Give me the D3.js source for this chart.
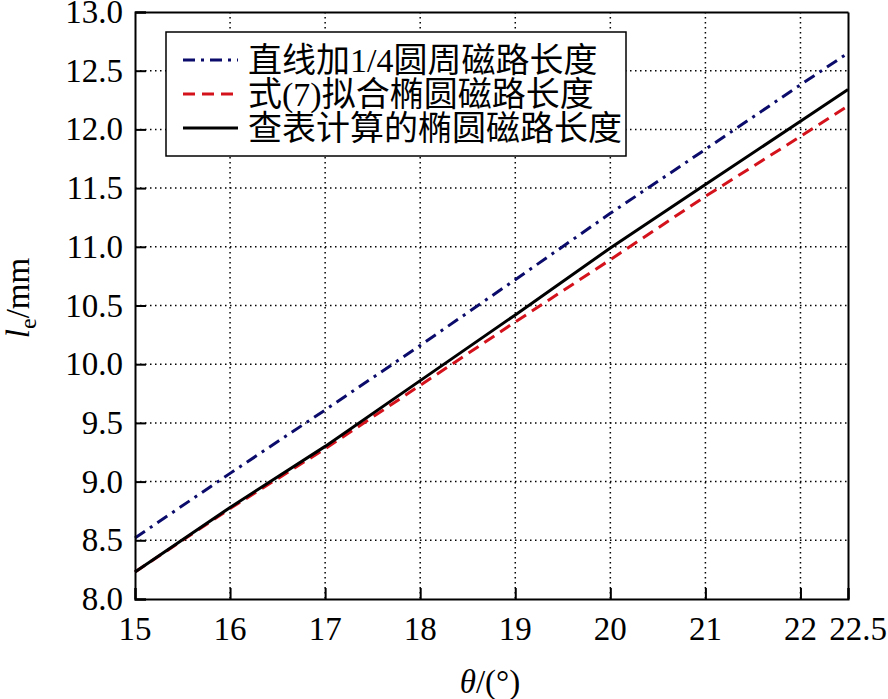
<!DOCTYPE html>
<html><head><meta charset="utf-8">
<script src="https://cdn.jsdelivr.net/npm/d3@7"></script>
<style>
html,body{margin:0;padding:0;background:#fff;}
svg{display:block;}
</style></head>
<body>
<svg id="chart" width="888" height="699"></svg>
<script>
const theta = [15, 16, 17, 18, 19, 20, 21, 22, 22.5];
const straightQuarter = [8.52, 9.07, 9.61, 10.16, 10.72, 11.285, 11.83, 12.38, 12.65];
const fittedEllipse = [8.23, 8.77, 9.28, 9.82, 10.36, 10.89, 11.43, 11.94, 12.20];
const tableEllipse = [8.23, 8.78, 9.30, 9.86, 10.42, 10.99, 11.53, 12.07, 12.34];
const xTicks = [15, 16, 17, 18, 19, 20, 21, 22, 22.5];
const yTicks = [8.0, 8.5, 9.0, 9.5, 10.0, 10.5, 11.0, 11.5, 12.0, 12.5, 13.0];
const seriesNames = ["直线加1/4圆周磁路长度", "式(7)拟合椭圆磁路长度", "查表计算的椭圆磁路长度"];
const seriesColors = ["#0b0b6b", "#d4121c", "#000000"];
const seriesDash = ["12,6,3,6", "12,7", null];

const svg = d3.select("#chart");
const pL = 135, pR = 848, pT = 12, pB = 599;
const x = d3.scaleLinear().domain([15, 22.5]).range([pL, pR]);
const y = d3.scaleLinear().domain([8, 13]).range([pB, pT]);
const numFont = "'Liberation Serif', 'Times New Roman', serif";
const cjkFont = "'Liberation Serif', 'Noto Sans CJK SC', serif";

// grid
const grid = svg.append("g");
grid.selectAll("line.vx").data(xTicks.filter(d => d > 15 && d < 22.5)).join("line")
  .attr("x1", d => x(d)).attr("x2", d => x(d)).attr("y1", pT).attr("y2", pB)
  .attr("stroke", "#000").attr("stroke-width", 1.5).attr("stroke-dasharray", "1.5,3.5");
grid.selectAll("line.hy").data(yTicks.filter(d => d > 8 && d < 13)).join("line")
  .attr("y1", d => y(d)).attr("y2", d => y(d)).attr("x1", pL).attr("x2", pR)
  .attr("stroke", "#000").attr("stroke-width", 1.5).attr("stroke-dasharray", "1.5,3.5");

// series
const series = [straightQuarter, fittedEllipse, tableEllipse];
const line = d3.line().x((d, i) => x(theta[i])).y(d => y(d));
series.forEach((s, k) => {
  svg.append("path").datum(s).attr("d", line)
    .attr("fill", "none").attr("stroke", seriesColors[k]).attr("stroke-width", 3)
    .attr("stroke-dasharray", seriesDash[k]);
});

// axes (ticks inward)
const xAxisB = d3.axisBottom(x).tickValues(xTicks).tickSize(-11).tickFormat("");
const xAxisT = d3.axisTop(x).tickValues(xTicks).tickSize(0).tickFormat("");
const yAxisL = d3.axisLeft(y).tickValues(yTicks).tickSize(-11).tickFormat("");
const yAxisR = d3.axisRight(y).tickValues(yTicks).tickSize(0).tickFormat("");
[[xAxisB, `translate(0,${pB})`], [xAxisT, `translate(0,${pT})`],
 [yAxisL, `translate(${pL},0)`], [yAxisR, `translate(${pR},0)`]].forEach(([ax, tr]) => {
  const g = svg.append("g").attr("transform", tr).call(ax);
  g.select(".domain").attr("stroke", "#000").attr("stroke-width", 2);
  g.selectAll(".tick line").attr("stroke", "#000").attr("stroke-width", 2);
});

// tick labels
svg.append("g").selectAll("text").data(xTicks).join("text")
  .attr("x", d => x(d) + (d === 22.5 ? 10 : 0)).attr("y", 640)
  .attr("text-anchor", "middle").attr("font-family", numFont).attr("font-size", 33)
  .text(d => d);
svg.append("g").selectAll("text").data(yTicks).join("text")
  .attr("x", 123).attr("y", d => y(d) + 11)
  .attr("text-anchor", "end").attr("font-family", numFont).attr("font-size", 33)
  .text(d => d.toFixed(1));

// axis titles
const xl = svg.append("text").attr("x", 490).attr("y", 693).attr("text-anchor", "middle")
  .attr("font-family", numFont).attr("font-size", 33);
xl.append("tspan").attr("font-style", "italic").text("θ");
xl.append("tspan").text("/(°)");
const yl = svg.append("text").attr("transform", "translate(29,298) rotate(-90)")
  .attr("text-anchor", "middle").attr("font-family", numFont).attr("font-size", 33);
yl.append("tspan").attr("font-style", "italic").text("l");
yl.append("tspan").attr("font-size", 24).attr("dy", 7).text("e");
yl.append("tspan").attr("dy", -7).text("/mm");

// legend
const lg = svg.append("g");
lg.append("rect").attr("x", 166).attr("y", 32).attr("width", 460).attr("height", 124)
  .attr("fill", "#fff").attr("stroke", "#000").attr("stroke-width", 1.5);
seriesNames.forEach((name, k) => {
  const cy = 60 + k * 34;
  lg.append("line").attr("x1", 183).attr("x2", 238).attr("y1", cy).attr("y2", cy)
    .attr("stroke", seriesColors[k]).attr("stroke-width", 3)
    .attr("stroke-dasharray", seriesDash[k]);
  lg.append("text").attr("x", 248).attr("y", cy + 12)
    .attr("font-family", cjkFont).attr("font-size", 34).text(name);
});
</script>
</body></html>
